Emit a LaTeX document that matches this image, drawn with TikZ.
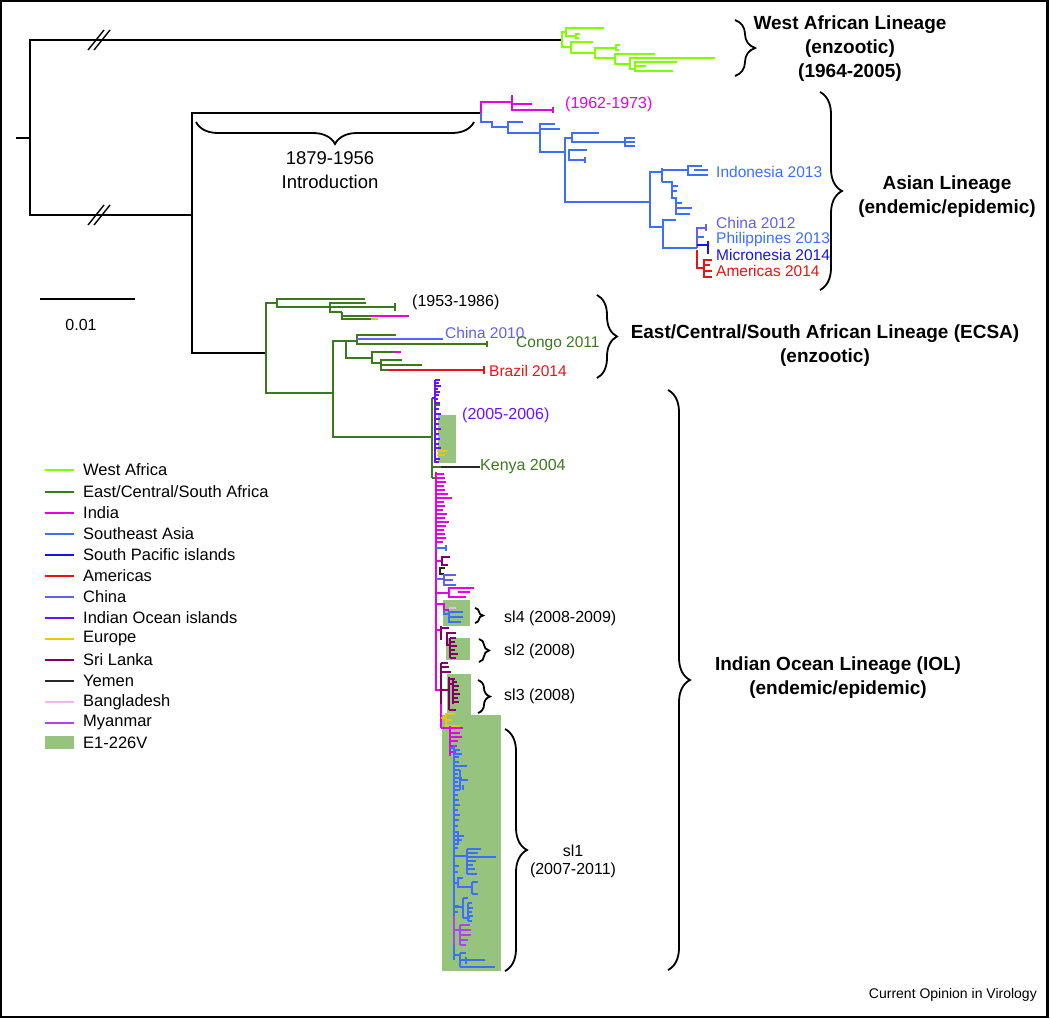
\documentclass[tikz,border=0pt]{standalone}
\usepackage{fontspec}
\setmainfont{Liberation Sans}
\usetikzlibrary{decorations.pathreplacing,positioning}

\definecolor{cWA}{RGB}{128,255,0}
\definecolor{cECSA}{RGB}{60,120,30}
\definecolor{cIND}{RGB}{230,0,230}
\definecolor{cSEA}{RGB}{60,110,255}
\definecolor{cSPI}{RGB}{20,20,235}
\definecolor{cAME}{RGB}{230,20,20}
\definecolor{cCHN}{RGB}{95,95,240}
\definecolor{cIOI}{RGB}{105,20,245}
\definecolor{cEUR}{RGB}{235,200,0}
\definecolor{cSRI}{RGB}{130,0,100}
\definecolor{cYEM}{RGB}{40,40,40}
\definecolor{cBAN}{RGB}{235,185,235}
\definecolor{cMYA}{RGB}{170,70,235}
\definecolor{cEone}{RGB}{150,196,126}

\newcommand{\lblfont}{\fontsize{16}{18}\selectfont}
\newcommand{\tipfont}{\fontsize{15.5}{17}\selectfont}
\newcommand{\legfont}{\fontsize{16.5}{19}\selectfont}
\newcommand{\linfont}{\fontsize{19}{24}\selectfont\bfseries}
\newcommand{\intfont}{\fontsize{18.5}{24}\selectfont}

\begin{document}
\begin{tikzpicture}[x=1pt,y=-1pt,
  tree/.style={line width=1.7pt},
  blk/.style={tree,draw=black,line width=2pt},
  wa/.style={tree,draw=cWA}, ecsa/.style={tree,draw=cECSA},
  ind/.style={tree,draw=cIND}, sea/.style={tree,draw=cSEA},
  spi/.style={tree,draw=cSPI}, ame/.style={tree,draw=cAME},
  chn/.style={tree,draw=cCHN}, ioi/.style={tree,draw=cIOI},
  eur/.style={tree,draw=cEUR}, sri/.style={tree,draw=cSRI},
  yem/.style={tree,draw=cYEM}, ban/.style={tree,draw=cBAN},
  mya/.style={tree,draw=cMYA},
  brc/.style={draw=black,line width=1.8pt,decorate,decoration={brace,amplitude=#1}},
  lbl/.style={font=\lblfont,anchor=west,inner sep=0pt},
  tip/.style={font=\tipfont,anchor=west,inner sep=0pt},
  lin/.style={font=\linfont,align=center,inner sep=0pt}]
\useasboundingbox (0,0) rectangle (1050,1018);
\draw[line width=2pt] (1,1) rectangle (1047,1017);
\draw[line width=3pt] (1047,0) -- (1047,1018);

% E1-226V shading
\fill[cEone] (438,415) rectangle (456,463);
\fill[cEone] (443,600) rectangle (470,626);
\fill[cEone] (446,638) rectangle (470,660);
\fill[cEone] (447,674) rectangle (471,715);
\fill[cEone] (442,715) rectangle (501,971);

% backbone
\draw[blk] (16,138) -- (30,138);
\draw[blk] (562,40) -| (30,215) -- (192,215);
\draw[blk] (481,113) -| (192,353) -- (266,353);
\draw[blk,line width=1.4pt] (88,50) -- (104,30) (94,50) -- (110,30) (88,225) -- (104,205) (94,225) -- (110,205);

% west african
\draw[wa] (566,32) -| (562,47) -- (571,47);
\draw[wa] (604,28) -| (566,36) -- (576,36);
\draw[wa] (580,34) -| (576,38) -- (579,38);
\draw[wa] (593,42) -| (571,53) -- (595,53);
\draw[wa] (616,48) -| (595,58) -- (615,58);
\draw[wa] (620,45) -| (616,50) -- (619,50);
\draw[wa] (655,54) -| (615,64) -- (630,64);
\draw[wa] (715,58) -| (630,69) -- (635,69);
\draw[wa] (677,62) -| (635,71) -- (673,71);
\draw[wa] (635,66) -- (646,66);

% asian
\draw[ind] (512,102) -| (481,113);
\draw[sea] (481,113) |- (492,122) -- (492,127) -- (508,127);
\draw[ind] (512,95) -- (512,110) -- (553,110);
\draw[ind] (512,104) -- (532,104);
\draw[ind] (553,107) -- (553,113);
\draw[sea] (523,122) -| (508,133) -- (540,133);
\draw[sea] (555,124) -| (540,152) -- (565,152);
\draw[sea] (540,129) -- (560,129);
\draw[sea] (572,138) -| (565,202) -- (650,202);
\draw[sea] (599,133) -| (572,142) -- (625,142);
\draw[sea] (635,138) -| (625,146) -- (635,146);
\draw[sea] (625,142) -- (635,142);
\draw[sea] (587,150) -| (569,160) -- (585,160);
\draw[sea] (585,157) -- (585,163);
\draw[sea] (662,172) -| (650,227) -- (663,227);
\draw[sea] (662,168) -- (662,182);
\draw[sea] (662,170) -- (688,170);
\draw[sea] (702,166) -| (688,175) -- (708,175);
\draw[sea] (694,170) -- (708,170);
\draw[sea] (662,182) -- (672,182) -- (672,198) -- (676,198) -- (676,214) -- (690,214);
\draw[sea] (672,186) -- (678,186) (672,191) -- (677,191) (676,203) -- (682,203) (676,208) -- (692,208);
\draw[sea] (676,220) -| (663,248) -- (697,248);
\draw[chn] (697,248) -- (697,228) -- (706,228);
\draw[chn] (706,224) -- (706,231);
\draw[sea] (697,237) -- (704,237);
\draw[spi] (697,245) -- (708,245) (708,241) -- (708,254);
\draw[ame] (697,250) -- (697,268) -- (704,268);
\draw[ame] (712,260) -| (704,277) -- (712,277);
\draw[ame] (704,265) -- (710,265) (704,271) -- (712,271);

% ecsa
\draw[ecsa] (277,303) -| (266,393) -- (333,393);
\draw[ecsa] (365,299) -| (277,307) -- (330,307);
\draw[ecsa] (366,303) -| (330,312) -- (342,312);
\draw[ecsa] (330,307) -- (395,307);
\draw[ecsa] (395,303) -- (395,311);
\draw[ecsa] (342,312) -- (342,319) -- (371,319);
\draw[ecsa] (342,316) -- (370,316);
\draw[ind] (370,316) -- (409,316);
\draw[wa] (371,319) -- (378,319);
\draw[ecsa] (346,341) -| (333,437) -- (432,437);
\draw[ecsa] (346,341) -- (346,358) -- (372,358);
\draw[ecsa] (346,341) -- (357,341);
\draw[ecsa] (396,335) -| (357,344) -- (487,344);
\draw[chn] (357,339) -- (443,339);
\draw[ecsa] (487,341) -- (487,347);
\draw[ecsa] (396,352) -| (372,363) -- (381,363);
\draw[ind] (394,352) -- (401,352);
\draw[ecsa] (402,360) -| (381,370) -- (388,370);
\draw[ecsa] (381,365) -- (422,365);
\draw[ame] (388,370) -- (484,370);
\draw[ame] (484,366) -- (484,374);

% indian ocean lineage
\draw[ecsa] (432,398) -- (432,478);
\draw[ioi] (432,398) -- (435,398);
\draw[ioi] (435,380) -- (435,463);
\foreach \y/\l in {380/5,383/4,386/6,389/3,392/5,395/4,399/3,403/5,409/4,414/6,419/5,424/4,429/6,434/4,439/5,444/4,448/6,459/5,462/4}
  \draw[ioi] (435,\y) -- ++(\l,0);
\draw[ecsa] (435,405) -- ++(5,0);
\draw[eur] (437,451) -- (447,451) (437,455) -- (445,455);
\draw[ecsa] (432,467) -- (441,467);
\draw[ecsa] (432,478) -- (436,478);
\draw[ind] (436,472) -- (436,690) -- (441,690) -- (441,728);
\foreach \y/\l in {474/8,478/9,482/10,486/8,490/9,494/12,498/16,502/8,506/9,510/7,514/11,518/9,522/13,526/10,530/8,534/9,538/10,542/7}
  \draw[ind] (436,\y) -- ++(\l,0);
\draw[sea] (436,548) -- (446,548) (446,545) -- (446,551);
\draw[ind] (436,561) -- (442,561);
\draw[sri] (450,557) -| (442,565) -- (448,565);
\draw[yem] (445,568) -| (440,574) -- (444,574);
\draw[chn] (436,579) -- (444,579);
\draw[chn] (456,575) -| (444,585) -- (456,585);
\draw[chn] (444,580) -- (453,580);
\draw[ind] (436,593) -- (449,593);
\draw[ind] (474,588) -| (449,597) -- (466,597);
\draw[ind] (458,592) -- (470,592);
\draw[ind] (436,604) -- (444,604) -- (444,610) -- (449,610);
\draw[ban] (449,608) -- (456,608);
\draw[sea] (444,610) -- (444,614) -- (449,614);
\draw[sea] (463,612) -| (449,622) -- (461,622);
\draw[sea] (449,617) -- (463,617);
\draw[ind] (436,630) -- (441,630);
\draw[sri] (441,626) -- (441,640);
\draw[sri] (441,628) -- (449,628);
\draw[sri] (456,633) -| (447,645) -- (450,645);
\draw[sri] (450,638) -- (450,658);
\foreach \y/\l in {638/6,642/5,646/7,650/5,654/8,658/6}
  \draw[sri] (450,\y) -- ++(\l,0);
\draw[sri] (441,663) -- (441,704);
\foreach \y/\l in {663/7,667/8,672/10}
  \draw[sri] (441,\y) -- ++(\l,0);
\draw[sri] (441,690) -- (449,690);
\draw[sri] (449,677) -- (449,710);
\draw[sri] (449,679) -- (455,679) (449,710) -- (456,710);
\draw[sri] (449,684) -- (453,684);
\draw[sri] (453,680) -- (453,704);
\foreach \y/\l in {682/4,686/6,690/5,694/7,698/5,702/6}
  \draw[sri] (453,\y) -- ++(\l,0);
\draw[eur] (441,718) -- (446,718);
\draw[eur] (455,714) -| (446,726) -- (460,726);
\draw[eur] (446,720) -- (452,720);
% sl1
\draw[ind] (441,728) -- (450,728);
\draw[ind] (450,726) -- (450,756);
\foreach \y/\l in {728/13,733/10,737/12,741/8,746/7,752/6}
  \draw[ind] (450,\y) -- ++(\l,0);
\draw[sea] (450,748) -- (454,748);
\draw[sea] (454,745) -- (454,915);
\foreach \y/\l in {750/6,754/8,757/5,762/5,766/13,770/6,774/4,778/8,782/4,786/7,790/6,795/4,800/5,805/6,810/4,815/6,820/5,826/4,832/5,836/6,840/8,844/5,848/4,866/5,872/4,906/5,912/4}
  \draw[sea] (454,\y) -- ++(\l,0);
\draw[sea] (460,770) -- (460,790) (460,780) -- (468,780) (463,785) -- (463,790);
\draw[sea] (458,832) -- (458,844) (458,836) -- (464,836);
\draw[sea] (454,856) -- (467,856);
\draw[sea] (467,849) -- (467,874);
\foreach \y/\l in {849/14,853/11,857/29,861/9,865/6,869/8,874/10}
  \draw[sea] (467,\y) -- ++(\l,0);
\draw[sea] (454,883) -- (458,883) -- (458,878) -- (463,878);
\draw[sea] (458,883) -- (458,887) -- (472,887);
\draw[sea] (472,882) -- (472,894);
\draw[sea] (472,882) -- (478,882) (472,894) -- (478,894);
\draw[sea] (454,907) -- (463,907);
\draw[sea] (463,898) -- (463,918) (463,898) -- (468,898) (463,918) -- (470,918);
\draw[sea] (468,903) -- (468,921);
\foreach \y/\l in {903/4,908/5,912/4,916/5,921/4}
  \draw[sea] (468,\y) -- ++(\l,0);
\draw[mya] (454,915) -- (454,945);
\draw[mya] (454,930) -- (460,930);
\draw[mya] (460,925) -- (460,945);
\foreach \y/\l in {925/10,930/11,935/11,940/8,945/6}
  \draw[mya] (460,\y) -- ++(\l,0);
\draw[sea] (454,945) -- (454,960);
\draw[sea] (454,955) -- (460,955);
\draw[sea] (460,953) -- (460,967);
\draw[sea] (460,960) -- (485,960);
\draw[sea] (460,967) -- (495,967);
\draw[sea] (466,957) -- (466,964) (460,953) -- (466,953);

% scale bar
\draw[line width=1.5pt] (40,299) -- (135,299);
\node[font=\lblfont,inner sep=0pt] (scl) at (81,325) {0.01};

% braces and lineage labels
\draw[brc=20pt] (735,20) -- (735,76);
\node[lin] (walin) at (850,49) {West African Lineage\\(enzootic)\\(1964-2005)};
\draw[brc=22pt] (820,92) -- (820,290);
\node[lin] (aslin) at (947,197) {Asian Lineage\\(endemic/epidemic)};
\draw[brc=20pt] (597,295) -- (597,378);
\node[lin] (eclin) at (825,346) {East/Central/South African Lineage (ECSA)\\(enzootic)};
\draw[brc=22pt] (668,390) -- (668,970);
\node[lin] (iolin) at (838,678) {Indian Ocean Lineage (IOL)\\(endemic/epidemic)};
\draw[brc=22pt] (474,122) -- (196,122);
\node[font=\intfont,align=center,inner sep=0pt] (intro) at (330,170) {1879-1956\\Introduction};
\draw[brc=8pt] (475,608) -- (475,623);
\draw[brc=10pt] (479,639) -- (479,662);
\draw[brc=12pt] (478,680) -- (478,713);
\draw[brc=22pt] (505,729) -- (505,971);
\node[lbl] (sl4) at (504,618) {sl4 (2008-2009)};
\node[lbl] (sl2) at (504,651) {sl2 (2008)};
\node[lbl] (sl3) at (504,696) {sl3 (2008)};
\node[font=\lblfont,align=center,inner sep=0pt] (sl1) at (573,861) {sl1\\(2007-2011)};

% tip labels
\node[lbl,text=cIND] (gp1) at (565,104) {(1962-1973)};
\node[tip,text=cSEA] (indo) at (716,172) {Indonesia 2013};
\node[tip,text=cCHN] (chn12) at (716,223) {China 2012};
\node[tip,text=cSEA] (phil) at (716,239) {Philippines 2013};
\node[tip,text=cSPI] (micr) at (716,255) {Micronesia 2014};
\node[tip,text=cAME] (amer) at (716,271) {Americas 2014};
\node[lbl] (gp2) at (412,302) {(1953-1986)};
\node[tip,text=cCHN] (chn10) at (445,333) {China 2010};
\node[tip,text=cECSA] (cong) at (516,344) {Congo 2011};
\node[tip,text=cAME] (braz) at (489,371) {Brazil 2014};
\node[lbl,text=cIOI] (gp3) at (462,415) {(2005-2006)};
\node[lbl,text=cECSA] (keny) at (480,467) {Kenya 2004};
\draw[yem] (441,467) -- (keny.west);

% legend
\foreach \c/\t/\y [count=\i] in {cWA/West Africa/470, cECSA/{East/Central/South Africa}/492, cIND/India/513, cSEA/Southeast Asia/534, cSPI/South Pacific islands/555, cAME/Americas/576, cCHN/China/597, cIOI/Indian Ocean islands/618, cEUR/Europe/639, cSRI/Sri Lanka/660, cYEM/Yemen/681, cBAN/Bangladesh/702, cMYA/Myanmar/723}{
  \draw[line width=1.8pt,draw=\c] (45,\y) -- (74,\y);
  \node[font=\legfont,anchor=west,inner sep=0pt] (leg\i) at (83,\y) {\t};
}
\fill[cEone] (45,736) rectangle (74,749);
\node[font=\legfont,anchor=west,inner sep=0pt] (legE) at (83,742.5) {E1-226V};

\node[font=\fontsize{14}{16}\selectfont,anchor=east,inner sep=0pt] (jrnl) at (1037,995) {Current Opinion in Virology};
\end{tikzpicture}
\end{document}
